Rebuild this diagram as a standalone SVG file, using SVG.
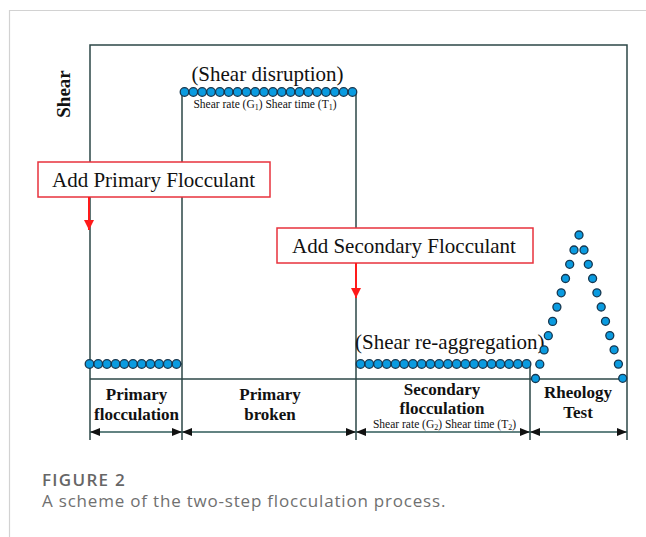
<svg xmlns="http://www.w3.org/2000/svg" xmlns:xlink="http://www.w3.org/1999/xlink" width="646" height="537" viewBox="0 0 646 537">
<style>
.ln{stroke:#2c4747;stroke-width:1.5;fill:none}
.ar{stroke:#2f5a58;stroke-width:1.5;fill:none;marker-start:url(#ah);marker-end:url(#ah)}
.red{stroke:#ff1a1a;stroke-width:2;fill:none;marker-end:url(#rh)}
.dot{fill:#0a9be0;stroke:#17374f;stroke-width:1.3}
.big{font-family:"Liberation Serif","Times New Roman",serif;font-size:21px;fill:#111}
.sm{font-family:"Liberation Serif","Times New Roman",serif;font-size:11.5px;fill:#111}
.bl{font-family:"Liberation Serif","Times New Roman",serif;font-size:17px;font-weight:bold;fill:#111;text-anchor:middle}
.box{fill:#fff;stroke:#e8323c;stroke-width:1.5}
.cap{font-family:"Open Sans","Noto Sans",sans-serif;font-size:17px;fill:#707070}
</style>
<defs>
<marker id="ah" viewBox="0 0 10 8" refX="10" refY="4" markerWidth="10" markerHeight="8" markerUnits="userSpaceOnUse" orient="auto-start-reverse"><path d="M0,0 L10,4 L0,8 z" fill="#111"/></marker>
<marker id="rh" viewBox="0 0 10 10" refX="10" refY="5" markerWidth="10" markerHeight="10" markerUnits="userSpaceOnUse" orient="auto"><path d="M0,0 L10,5 L0,10 z" fill="#ff1a1a"/></marker>
</defs>
<rect width="646" height="537" fill="#fff"/>
<path d="M9.5,537 V10.5 H646" stroke="#d2d2d2" stroke-width="1.2" fill="none"/>

<g id="frame">
<path class="ln" d="M90,440 V45 H627 V440"/>
<path class="ln" d="M90,379 H627"/>
<path class="ln" d="M182,440 V92 H356 V440"/>
<path class="ln" d="M90,364 H182"/>
<path class="ln" d="M356,364 H530 V440"/>
</g>

<g id="axis-label">
<text class="bl" transform="translate(70,94) rotate(-90)" style="font-size:19px">Shear</text>
</g>

<g id="shear-disruption">
<text class="big" x="267.5" y="81" text-anchor="middle">(Shear disruption)</text>
<circle class="dot" cx="184.5" cy="92" r="4.3"/><circle class="dot" cx="193.34" cy="92" r="4.3"/><circle class="dot" cx="202.18" cy="92" r="4.3"/><circle class="dot" cx="211.02" cy="92" r="4.3"/><circle class="dot" cx="219.86" cy="92" r="4.3"/><circle class="dot" cx="228.7" cy="92" r="4.3"/><circle class="dot" cx="237.54" cy="92" r="4.3"/><circle class="dot" cx="246.38" cy="92" r="4.3"/><circle class="dot" cx="255.22" cy="92" r="4.3"/><circle class="dot" cx="264.06" cy="92" r="4.3"/><circle class="dot" cx="272.9" cy="92" r="4.3"/><circle class="dot" cx="281.74" cy="92" r="4.3"/><circle class="dot" cx="290.58" cy="92" r="4.3"/><circle class="dot" cx="299.42" cy="92" r="4.3"/><circle class="dot" cx="308.26" cy="92" r="4.3"/><circle class="dot" cx="317.1" cy="92" r="4.3"/><circle class="dot" cx="325.94" cy="92" r="4.3"/><circle class="dot" cx="334.78" cy="92" r="4.3"/><circle class="dot" cx="343.62" cy="92" r="4.3"/><circle class="dot" cx="352.46" cy="92" r="4.3"/>
<text class="sm" x="265" y="108" text-anchor="middle">Shear rate (G<tspan font-size="8" dy="2">1</tspan><tspan dy="-2">) Shear time (T</tspan><tspan font-size="8" dy="2">1</tspan><tspan dy="-2">)</tspan></text>
</g>

<g id="primary-row">
<circle class="dot" cx="89.5" cy="364" r="4.3"/><circle class="dot" cx="98.2" cy="364" r="4.3"/><circle class="dot" cx="106.9" cy="364" r="4.3"/><circle class="dot" cx="115.6" cy="364" r="4.3"/><circle class="dot" cx="124.3" cy="364" r="4.3"/><circle class="dot" cx="133" cy="364" r="4.3"/><circle class="dot" cx="141.7" cy="364" r="4.3"/><circle class="dot" cx="150.4" cy="364" r="4.3"/><circle class="dot" cx="159.1" cy="364" r="4.3"/><circle class="dot" cx="167.8" cy="364" r="4.3"/><circle class="dot" cx="176.5" cy="364" r="4.3"/>
</g>

<g id="reaggregation">
<text class="big" x="355" y="349">(Shear re-aggregation)</text>
<circle class="dot" cx="360.5" cy="364" r="4.3"/><circle class="dot" cx="369.24" cy="364" r="4.3"/><circle class="dot" cx="377.98" cy="364" r="4.3"/><circle class="dot" cx="386.72" cy="364" r="4.3"/><circle class="dot" cx="395.46" cy="364" r="4.3"/><circle class="dot" cx="404.2" cy="364" r="4.3"/><circle class="dot" cx="412.94" cy="364" r="4.3"/><circle class="dot" cx="421.68" cy="364" r="4.3"/><circle class="dot" cx="430.42" cy="364" r="4.3"/><circle class="dot" cx="439.16" cy="364" r="4.3"/><circle class="dot" cx="447.9" cy="364" r="4.3"/><circle class="dot" cx="456.64" cy="364" r="4.3"/><circle class="dot" cx="465.38" cy="364" r="4.3"/><circle class="dot" cx="474.12" cy="364" r="4.3"/><circle class="dot" cx="482.86" cy="364" r="4.3"/><circle class="dot" cx="491.6" cy="364" r="4.3"/><circle class="dot" cx="500.34" cy="364" r="4.3"/><circle class="dot" cx="509.08" cy="364" r="4.3"/><circle class="dot" cx="517.82" cy="364" r="4.3"/><circle class="dot" cx="526.56" cy="364" r="4.3"/>
</g>

<g id="rheology-peak">
<circle class="dot" cx="535.5" cy="378.5" r="4"/><circle class="dot" cx="539.8" cy="364.2" r="4"/><circle class="dot" cx="544.1" cy="349.9" r="4"/><circle class="dot" cx="548.3" cy="335.7" r="4"/><circle class="dot" cx="552.6" cy="321.4" r="4"/><circle class="dot" cx="556.9" cy="307.1" r="4"/><circle class="dot" cx="561.2" cy="292.8" r="4"/><circle class="dot" cx="565.5" cy="278.5" r="4"/><circle class="dot" cx="569.7" cy="264.3" r="4"/><circle class="dot" cx="574" cy="250" r="4"/>
<circle class="dot" cx="579" cy="235" r="4"/>
<circle class="dot" cx="584" cy="250" r="4"/><circle class="dot" cx="588.3" cy="264.3" r="4"/><circle class="dot" cx="592.6" cy="278.5" r="4"/><circle class="dot" cx="596.9" cy="292.8" r="4"/><circle class="dot" cx="601.2" cy="307" r="4"/><circle class="dot" cx="605.5" cy="321.3" r="4"/><circle class="dot" cx="609.8" cy="335.6" r="4"/><circle class="dot" cx="614.1" cy="349.8" r="4"/><circle class="dot" cx="618.4" cy="364.1" r="4"/><circle class="dot" cx="622.7" cy="378.3" r="4"/>
</g>

<g id="add-primary">
<rect class="box" x="38" y="162" width="232" height="35"/>
<text class="big" x="52" y="187">Add Primary Flocculant</text>
</g>

<g id="add-secondary">
<rect class="box" x="277" y="228" width="256" height="35"/>
<text class="big" x="292" y="253">Add Secondary Flocculant</text>
</g>

<g id="phase-primary-flocculation">
<text class="bl" x="136.5" y="400">Primary</text>
<text class="bl" x="136.5" y="420">flocculation</text>
</g>
<g id="phase-primary-broken">
<text class="bl" x="270" y="400">Primary</text>
<text class="bl" x="270" y="420">broken</text>
</g>
<g id="phase-secondary-flocculation">
<text class="bl" x="442" y="395">Secondary</text>
<text class="bl" x="442" y="414">flocculation</text>
<text class="sm" x="444.5" y="428" text-anchor="middle">Shear rate (G<tspan font-size="8" dy="2">2</tspan><tspan dy="-2">) Shear time (T</tspan><tspan font-size="8" dy="2">2</tspan><tspan dy="-2">)</tspan></text>
</g>
<g id="phase-rheology">
<text class="bl" x="578" y="398">Rheology</text>
<text class="bl" x="578" y="418">Test</text>
</g>

<g id="connectors">
<path class="red" d="M89,197 V230"/>
<path class="red" d="M356,263 V298"/>
<path class="ar" d="M90,432 H182"/>
<path class="ar" d="M182,432 H356"/>
<path class="ar" d="M356,432 H530"/>
<path class="ar" d="M530,432 H627"/>
</g>

<g id="caption">
<text class="cap" x="42" y="486" style="font-weight:600;letter-spacing:1.3px;fill:#666">FIGURE 2</text>
<text class="cap" x="42" y="507" style="letter-spacing:0.8px">A scheme of the two-step flocculation process.</text>
</g>
</svg>
